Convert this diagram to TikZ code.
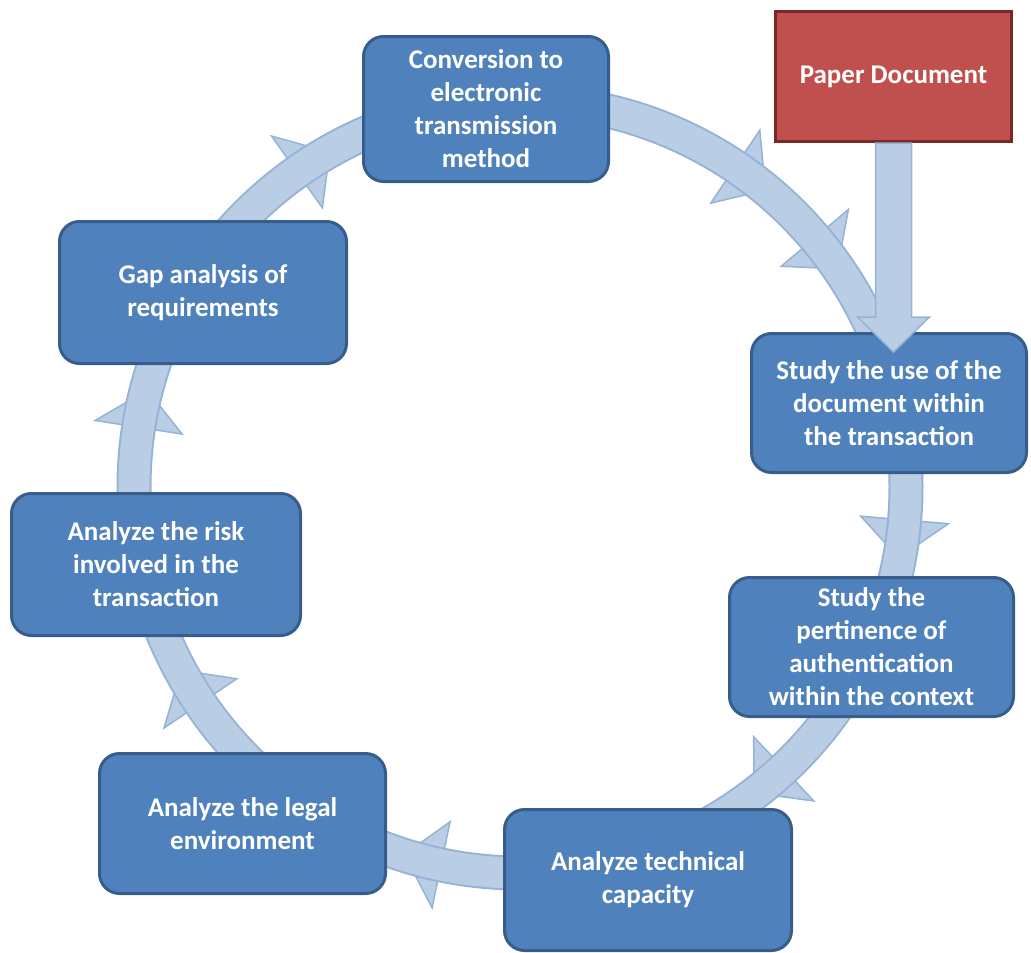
\documentclass[tikz,border=0pt]{standalone}
\usepackage{fontspec}
\setmainfont{Carlito}
\usetikzlibrary{calc}
\definecolor{boxfill}{RGB}{79,129,189}
\definecolor{boxline}{RGB}{56,93,138}
\definecolor{redfill}{RGB}{192,80,77}
\definecolor{redline}{RGB}{120,40,38}
\definecolor{bandfill}{RGB}{185,205,229}
\definecolor{bandline}{RGB}{149,179,215}
\begin{document}
\begin{tikzpicture}[x=1pt,y=-1pt,
  stepbox/.style={draw=boxline, fill=boxfill, line width=3pt, rounded corners=20pt,
    text=white, font=\bfseries\fontsize{27}{33}\selectfont, align=center, inner sep=0pt},
  paperbox/.style={draw=redline, fill=redfill, line width=3pt,
    text=white, font=\bfseries\fontsize{27}{33}\selectfont, align=center, inner sep=0pt},
  spike/.style={fill=bandfill, draw=bandline, line width=1.5pt, line join=miter},
  bigarrow/.style={fill=bandfill, draw=bandline, line width=1.5pt}]
\useasboundingbox (0,0) rectangle (1031,953);
\coordinate (c) at (520,487);
% arrowhead barbs along the ring
\foreach \a in {-125.3,-56.1,-40.2,4.9,46.9,101.8,145.9,188.9} {
  \filldraw[spike] ($(c)+(\a:397)$) -- ($(c)+(\a:430)$) -- ($(c)+(\a+4:397)$) -- cycle;
  \filldraw[spike] ($(c)+(\a:375)$) -- ($(c)+(\a:342)$) -- ($(c)+(\a+4.5:375)$) -- cycle;
}
% ring band
\draw[line width=35pt, bandline] (c) circle[radius=386pt];
\draw[line width=31pt, bandfill] (c) circle[radius=386pt];
% nodes
\node[stepbox, minimum width=245pt, minimum height=145pt] (conv) at (486,109)
  {Conversion to\\electronic\\transmission\\method};
\node[paperbox, minimum width=236pt, minimum height=130pt] (paper) at (893.5,76.5)
  {Paper Document};
\node[stepbox, minimum width=287pt, minimum height=142pt] (gap) at (203,292.5)
  {Gap analysis of\\requirements};
\node[stepbox, minimum width=275pt, minimum height=139pt] (use) at (889,403)
  {Study the use of the\\document within\\the transaction};
\node[stepbox, minimum width=289pt, minimum height=142pt] (risk) at (156,564.5)
  {Analyze the risk\\involved in the\\transaction};
\node[stepbox, minimum width=284pt, minimum height=139pt] (pert) at (871.5,647)
  {Study the\\pertinence of\\authentication\\within the context};
\node[stepbox, minimum width=286pt, minimum height=140pt] (legal) at (242.5,823.5)
  {Analyze the legal\\environment};
\node[stepbox, minimum width=287pt, minimum height=141pt] (tech) at (648,880)
  {Analyze technical\\capacity};
% down arrow from the paper document
\draw[bigarrow] ($(paper.south)+(-18,0)$)
  -- ($(paper.south |- use.north)+(-18,-15)$)
  -- ($(paper.south |- use.north)+(-36,-15)$)
  -- ($(paper.south |- use.north)+(0,20)$)
  -- ($(paper.south |- use.north)+(36,-15)$)
  -- ($(paper.south |- use.north)+(18,-15)$)
  -- ($(paper.south)+(18,0)$) -- cycle;
\end{tikzpicture}
\end{document}
